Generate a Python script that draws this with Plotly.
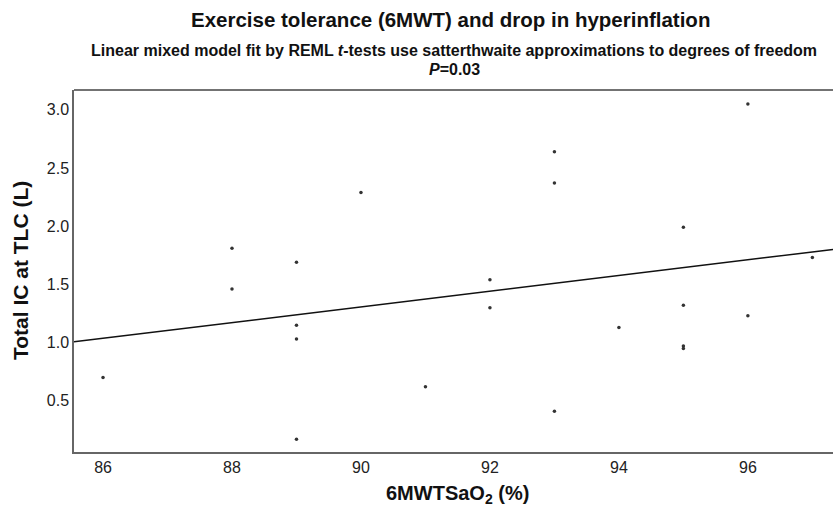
import plotly.graph_objects as go

# Data
sao2 = [86, 88, 88, 89, 89, 89, 89, 90, 91, 92, 92, 93, 93, 93, 94, 95, 95, 95, 95, 96, 96, 97]
total_ic = [0.70, 1.81, 1.46, 1.69, 1.15, 1.03, 0.17, 2.29, 0.62, 1.54, 1.30, 2.64, 2.37, 0.41,
            1.13, 1.99, 1.32, 0.97, 0.95, 3.05, 1.23, 1.73]
fit_x = [85.55, 97.32]
fit_y = [1.007, 1.80]
x_ticks = [86, 88, 90, 92, 94, 96]
y_ticks = [0.5, 1.0, 1.5, 2.0, 2.5, 3.0]

FONT = "Liberation Sans, Arial, sans-serif"
L, T, B, W, H = 74, 90, 60, 833, 512
PW, PH = W - L, H - T - B


def px_x(px):
    return (px - L) / PW


def px_y(py):
    return (H - B - py) / PH


fig = go.Figure()
fig.add_trace(go.Scatter(x=fit_x, y=fit_y, mode="lines",
                         line=dict(color="#111111", width=1.5), showlegend=False, hoverinfo="skip"))
fig.add_trace(go.Scatter(x=sao2, y=total_ic, mode="markers",
                         marker=dict(color="#333333", size=3.5), showlegend=False))

fig.update_layout(
    width=W, height=H,
    margin=dict(l=L, r=0, t=T, b=B, autoexpand=False),
    paper_bgcolor="white", plot_bgcolor="white",
    font=dict(family=FONT, color="#222222"),
    annotations=[
        dict(text="<b>Exercise tolerance (6MWT) and drop in hyperinflation</b>",
             xref="paper", yref="paper", x=px_x(450), y=px_y(20), xanchor="center", yanchor="middle",
             showarrow=False, font=dict(size=20.5, color="#111111")),
        dict(text="<b>Linear mixed model fit by REML <i>t</i>-tests use satterthwaite approximations to degrees of freedom</b>",
             xref="paper", yref="paper", x=px_x(454), y=px_y(50), xanchor="center", yanchor="middle",
             showarrow=False, font=dict(size=16, color="#111111")),
        dict(text="<b><i>P</i>=0.03</b>",
             xref="paper", yref="paper", x=px_x(454), y=px_y(70), xanchor="center", yanchor="middle",
             showarrow=False, font=dict(size=16, color="#111111")),
        dict(text="<b>6MWTSaO<sub>2</sub> (%)</b>",
             xref="paper", yref="paper", x=px_x(457), y=px_y(494), xanchor="center", yanchor="middle",
             showarrow=False, font=dict(size=20, color="#111111")),
        dict(text="<b>Total IC at TLC (L)</b>", textangle=-90,
             xref="paper", yref="paper", x=px_x(20), y=px_y(271), xanchor="center", yanchor="middle",
             showarrow=False, font=dict(size=21, color="#111111")),
    ],
    shapes=[dict(type="line", xref="paper", yref="paper", x0=0, x1=1, y0=1, y1=1,
                 line=dict(color="#444444", width=1.5))],
)

fig.update_xaxes(range=[85.55, 97.32], tickvals=x_ticks, ticktext=[str(v) for v in x_ticks],
                 showgrid=False, zeroline=False, showline=True, linecolor="#666666", linewidth=1.5,
                 ticks="", tickfont=dict(size=16, color="#222222"), automargin=False)
fig.update_yaxes(range=[0.06, 3.17], tickvals=y_ticks, ticktext=[f"{v:.1f}" for v in y_ticks],
                 showgrid=False, zeroline=False, showline=True, linecolor="#666666", linewidth=1.5,
                 ticks="", tickfont=dict(size=16, color="#222222"), automargin=False)

fig.write_html("out.html",
               config={"displayModeBar": False},
               post_script="document.body.style.margin='0';document.body.style.overflow='hidden';"
                           "document.documentElement.style.overflow='hidden';")
